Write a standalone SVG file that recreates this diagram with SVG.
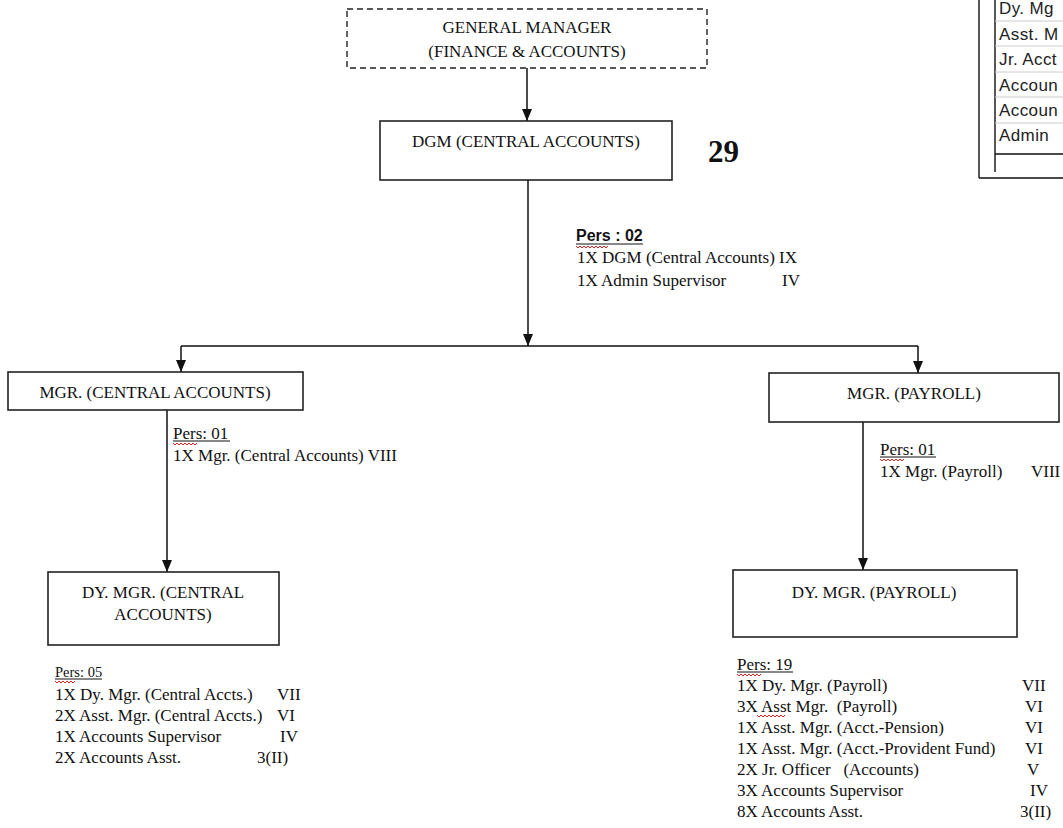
<svg xmlns="http://www.w3.org/2000/svg" width="1063" height="828" viewBox="0 0 1063 828">
<style>
.box{fill:#fff;stroke:#222;stroke-width:1.6}
.dash{fill:#fff;stroke:#222;stroke-width:1.4;stroke-dasharray:6 4}
.t{font-family:"Liberation Serif","Times New Roman",serif;font-size:17px;fill:#111;white-space:pre}
.c{text-anchor:middle}
.s{font-family:"Liberation Sans",Arial,sans-serif;font-size:17px;letter-spacing:0.4px;fill:#222}
.b{font-family:"Liberation Sans",Arial,sans-serif;font-size:16px;font-weight:bold;fill:#111}
.big{font-family:"Liberation Serif","Times New Roman",serif;font-size:31px;font-weight:bold;fill:#111}
.ln{stroke:#111;stroke-width:1.5;fill:none}
.ul{stroke:#111;stroke-width:1.2}
.sq{stroke:#d22;stroke-width:1;fill:none}
.grid{stroke:#ccc;stroke-width:1}
.tb{stroke:#111;stroke-width:1.4;fill:none}
</style>
<defs>
<marker id="arr" viewBox="0 0 12 10" refX="12" refY="5" markerWidth="12" markerHeight="10" markerUnits="userSpaceOnUse" orient="auto">
<path d="M0,0 L12,5 L0,10 z" fill="#111"/>
</marker>
</defs>
<rect width="1063" height="828" fill="#fff"/>

<g id="legend-table">
<line class="tb" x1="979" y1="0" x2="979" y2="178"/>
<line class="tb" x1="979" y1="178" x2="1063" y2="178"/>
<line class="tb" x1="995" y1="0" x2="995" y2="172"/>
<line class="grid" x1="995" y1="21" x2="1063" y2="21"/>
<line class="grid" x1="995" y1="46" x2="1063" y2="46"/>
<line class="grid" x1="995" y1="72" x2="1063" y2="72"/>
<line class="grid" x1="995" y1="97" x2="1063" y2="97"/>
<line class="grid" x1="995" y1="123" x2="1063" y2="123"/>
<line class="tb" x1="995" y1="154" x2="1063" y2="154"/>
<text class="s" x="999" y="14">Dy. Mg</text>
<text class="s" x="999" y="40">Asst. M</text>
<text class="s" x="999" y="65">Jr. Acct</text>
<text class="s" x="999" y="91">Accoun</text>
<text class="s" x="999" y="116">Accoun</text>
<text class="s" x="999" y="141">Admin</text>
</g>

<g id="connectors">
<line class="ln" x1="527" y1="68" x2="527" y2="121" marker-end="url(#arr)"/>
<line class="ln" x1="528" y1="180" x2="528" y2="346" marker-end="url(#arr)"/>
<line class="ln" x1="181" y1="346" x2="918" y2="346"/>
<line class="ln" x1="181" y1="346" x2="181" y2="372" marker-end="url(#arr)"/>
<line class="ln" x1="918" y1="346" x2="918" y2="373" marker-end="url(#arr)"/>
<line class="ln" x1="167" y1="410" x2="167" y2="572" marker-end="url(#arr)"/>
<line class="ln" x1="863" y1="422" x2="863" y2="570" marker-end="url(#arr)"/>
</g>

<g id="gm">
<rect class="dash" x="347" y="9" width="360" height="59"/>
<text class="t c" x="527" y="33">GENERAL MANAGER</text>
<text class="t c" x="527" y="57">(FINANCE &amp; ACCOUNTS)</text>
</g>

<g id="dgm">
<rect class="box" x="380" y="121" width="292" height="59"/>
<text class="t c" x="526" y="147">DGM (CENTRAL ACCOUNTS)</text>
</g>

<text class="big" x="708" y="162">29</text>

<g id="dgm-pers">
<text class="b" x="576" y="241">Pers : 02</text>
<line class="ul" x1="576" y1="244" x2="643" y2="244"/>
<path class="sq" d="M576,246 l2,2 l2,-2 l2,2 l2,-2 l2,2 l2,-2 l2,2 l2,-2 l2,2 l2,-2 l2,2 l2,-2 l2,2 l2,-2 l2,2 l2,-2"/>
<text class="t" x="577" y="263">1X DGM (Central Accounts) IX</text>
<text class="t" x="577" y="286">1X Admin Supervisor</text>
<text class="t" x="782" y="286">IV</text>
</g>

<g id="mgr-ca">
<rect class="box" x="8" y="372" width="295" height="38"/>
<text class="t c" x="155" y="398">MGR. (CENTRAL ACCOUNTS)</text>
<text class="t" x="173" y="439">Pers: 01</text>
<line class="ul" x1="173" y1="441" x2="230" y2="441"/>
<path class="sq" d="M173,443 l2,2 l2,-2 l2,2 l2,-2 l2,2 l2,-2 l2,2 l2,-2 l2,2 l2,-2 l2,2 l2,-2"/>
<text class="t" x="173" y="461">1X Mgr. (Central Accounts) VIII</text>
</g>

<g id="mgr-payroll">
<rect class="box" x="769" y="373" width="290" height="49"/>
<text class="t c" x="914" y="399">MGR. (PAYROLL)</text>
<text class="t" x="880" y="455">Pers: 01</text>
<line class="ul" x1="880" y1="457" x2="936" y2="457"/>
<path class="sq" d="M880,459 l2,2 l2,-2 l2,2 l2,-2 l2,2 l2,-2 l2,2 l2,-2 l2,2 l2,-2 l2,2 l2,-2"/>
<text class="t" x="880" y="477">1X Mgr. (Payroll)</text>
<text class="t" x="1031" y="477">VIII</text>
</g>

<g id="dy-mgr-ca">
<rect class="box" x="48" y="572" width="231" height="73"/>
<text class="t c" x="163" y="598">DY. MGR. (CENTRAL</text>
<text class="t c" x="163" y="620">ACCOUNTS)</text>
<text class="t" x="55" y="677" style="font-size:14.5px">Pers: 05</text>
<line class="ul" x1="55" y1="679" x2="102" y2="679"/>
<path class="sq" d="M55,681 l2,2 l2,-2 l2,2 l2,-2 l2,2 l2,-2 l2,2 l2,-2 l2,2 l2,-2"/>
<text class="t" x="55" y="700">1X Dy. Mgr. (Central Accts.)</text>
<text class="t" x="277" y="700">VII</text>
<text class="t" x="55" y="721">2X Asst. Mgr. (Central Accts.)</text>
<text class="t" x="277" y="721">VI</text>
<text class="t" x="55" y="742">1X Accounts Supervisor</text>
<text class="t" x="280" y="742">IV</text>
<text class="t" x="55" y="763">2X Accounts Asst.</text>
<text class="t" x="257" y="763">3(II)</text>
</g>

<g id="dy-mgr-payroll">
<rect class="box" x="733" y="570" width="284" height="67"/>
<text class="t c" x="874" y="598">DY. MGR. (PAYROLL)</text>
<text class="t" x="737" y="670">Pers: 19</text>
<line class="ul" x1="737" y1="672" x2="793" y2="672"/>
<path class="sq" d="M737,674 l2,2 l2,-2 l2,2 l2,-2 l2,2 l2,-2 l2,2 l2,-2 l2,2 l2,-2 l2,2 l2,-2"/>
<text class="t" x="737" y="691">1X Dy. Mgr. (Payroll)</text>
<text class="t" x="1022" y="691">VII</text>
<text class="t" x="737" y="712">3X Asst Mgr.  (Payroll)</text>
<path class="sq" d="M757,715 l2,2 l2,-2 l2,2 l2,-2 l2,2 l2,-2 l2,2 l2,-2 l2,2 l2,-2 l2,2 l2,-2 l2,2 l2,-2"/>
<text class="t" x="1025" y="712">VI</text>
<text class="t" x="737" y="733">1X Asst. Mgr. (Acct.-Pension)</text>
<text class="t" x="1025" y="733">VI</text>
<text class="t" x="737" y="754">1X Asst. Mgr. (Acct.-Provident Fund)</text>
<text class="t" x="1025" y="754">VI</text>
<text class="t" x="737" y="775">2X Jr. Officer   (Accounts)</text>
<text class="t" x="1027" y="775">V</text>
<text class="t" x="737" y="796">3X Accounts Supervisor</text>
<text class="t" x="1030" y="796">IV</text>
<text class="t" x="737" y="817">8X Accounts Asst.</text>
<text class="t" x="1020" y="817">3(II)</text>
</g>
</svg>
